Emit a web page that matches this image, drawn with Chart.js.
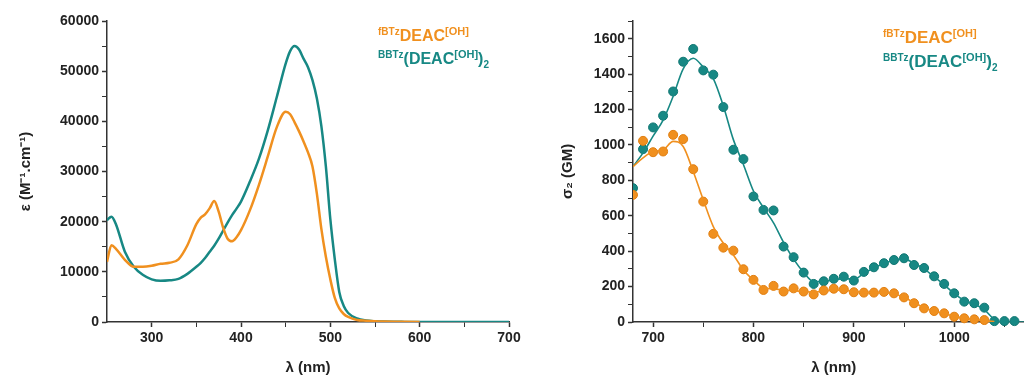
<!DOCTYPE html>
<html>
<head>
<meta charset="utf-8">
<script src="https://cdn.jsdelivr.net/npm/chart.js@4.4.1/dist/chart.umd.min.js"></script>
<style>
  html, body { margin: 0; padding: 0; background: #fff; overflow: hidden; width: 1024px; height: 378px; }
  .panel { position: absolute; top: 0; }
  .leg { position: absolute; font-family: "Liberation Sans", Arial, sans-serif; font-weight: bold; white-space: nowrap; line-height: 16px; font-size: 16px; }
  .leg sup { font-size: 10px; vertical-align: 6px; line-height: 0; }
  .leg sup.oh { font-size: 11px; }
  .leg sub { font-size: 10px; vertical-align: -4px; line-height: 0; }
  .orange { color: #F0901F; }
  .teal { color: #178884; }
</style>
</head>
<body>
<div class="panel" style="left:0"><canvas id="absChart" width="530" height="378"></canvas></div>
<div class="panel" style="left:520px"><canvas id="tpaChart" width="520" height="378"></canvas></div>

<div class="leg orange" style="left:378px;top:28px"><sup>fBTz</sup>DEAC<sup class="oh">[OH]</sup></div>
<div class="leg teal" style="left:378px;top:51px"><sup>BBTz</sup>(DEAC<sup class="oh">[OH]</sup>)<sub>2</sub></div>
<div class="leg orange" style="left:883px;top:30px;font-size:17px"><sup>fBTz</sup>DEAC<sup class="oh">[OH]</sup></div>
<div class="leg teal" style="left:883px;top:54px;font-size:17px"><sup>BBTz</sup>(DEAC<sup class="oh">[OH]</sup>)<sub>2</sub></div>

<script>
const ORANGE = '#F0901F';
const TEAL = '#178884';
const AXIS = '#333';

// left panel: one-photon absorption, epsilon vs wavelength
const absWl = [250, 255, 260, 270, 280, 290, 300, 310, 320, 330, 340, 350, 355, 360, 365, 370, 375, 380, 385, 390, 395, 400,
  410, 420, 430, 440, 450, 455, 460, 465, 470, 475, 480, 485, 490, 495, 500, 505, 510, 515, 520, 530, 540, 550, 560, 580, 600, 650, 700];
const epsFBTz = [12000, 15300, 14600, 12400, 11000, 11000, 11200, 11600, 11800, 12500, 15300, 19500, 20800, 21500, 22700, 24100, 22000, 18800, 16600, 16100, 16900, 18300,
  22300, 27300, 33000, 38800, 41900, 41400, 39800, 38000, 36000, 33800, 31000, 25500, 18500, 13000, 8500, 4800, 2700, 1600, 1000, 400, 250, 150, 100, 50, 0, null, null];
const epsBBTz = [20300, 21000, 19500, 14000, 11000, 9400, 8500, 8200, 8300, 8600, 9600, 11000, 11800, 12800, 14000, 15200, 16600, 18200, 19800, 21300, 22600, 24000,
  28000, 32500, 38200, 44800, 51500, 54000, 55000, 54300, 52500, 50800, 48200, 44500, 39000, 31000, 20500, 12500, 6000, 3200, 1800, 700, 300, 150, 80, 30, 0, 0, 0];

// right panel: two-photon cross sections (measured points)
const tpaWl = [680, 690, 700, 710, 720, 730, 740, 750, 760, 770, 780, 790, 800, 810, 820, 830, 840, 850, 860, 870,
  880, 890, 900, 910, 920, 930, 940, 950, 960, 970, 980, 990, 1000, 1010, 1020, 1030, 1040, 1050, 1060];
const sigmaFBTz = [718, 1023, 959, 963, 1057, 1033, 863, 680, 498, 420, 403, 298, 238, 181, 204, 172, 190, 172, 156, 178,
  188, 185, 168, 166, 166, 170, 162, 139, 106, 77, 62, 49, 30, 21, 15, 11, null, null, null];
const sigmaBBTz = [756, 976, 1099, 1165, 1302, 1470, 1542, 1421, 1397, 1214, 973, 920, 709, 633, 630, 426, 366, 279, 215, 230,
  244, 256, 234, 283, 309, 332, 350, 360, 322, 305, 258, 215, 162, 115, 106, 81, 5, 5, 5];

// right panel: smooth fit curves
const fitWl = [680, 690, 700, 710, 720, 730, 740, 750, 760, 770, 780, 790, 800, 810, 820, 830, 840, 850, 860, 870,
  880, 890, 900, 910, 920, 930, 940, 950, 960, 970, 980, 990, 1000, 1010, 1020, 1030, 1040, 1050, 1060, 1070, 1080];
const fitFBTz = [878, 927, 963, 972, 1020, 991, 850, 690, 539, 445, 379, 294, 237, 192, 187, 181, 177, 172, 168, 175,
  180, 180, 172, 168, 166, 165, 158, 140, 110, 82, 62, 47, 32, 22, 14, 8, 2, null, null, null, null];
const fitBBTz = [878, 955, 1050, 1140, 1275, 1430, 1490, 1440, 1375, 1220, 1030, 890, 740, 645, 560, 450, 355, 280, 228, 230,
  238, 245, 242, 275, 305, 330, 350, 355, 332, 300, 255, 210, 160, 122, 100, 70, 15, 0, 0, 0, 0];

// tick positions and the ones that carry a label
const absXTicks = [300, 350, 400, 450, 500, 550, 600, 650, 700];
const absXLabels = [300, 400, 500, 600, 700];
const absYTicks = [0, 5000, 10000, 15000, 20000, 25000, 30000, 35000, 40000, 45000, 50000, 55000, 60000];
const absYLabels = [0, 10000, 20000, 30000, 40000, 50000, 60000];
const tpaXTicks = [700, 750, 800, 850, 900, 950, 1000, 1050];
const tpaXLabels = [700, 800, 900, 1000];
const tpaYTicks = [0, 100, 200, 300, 400, 500, 600, 700, 800, 900, 1000, 1100, 1200, 1300, 1400, 1500, 1600, 1700];
const tpaYLabels = [0, 200, 400, 600, 800, 1000, 1200, 1400, 1600];

Chart.defaults.font.family = '"Liberation Sans", Arial, sans-serif';
Chart.defaults.color = '#222';

const pts = (xs, ys) => xs.map((x, i) => ({ x, y: ys[i] })).filter(p => p.y !== null);

function axis(opts) {
  const { min, max, ticks, labels, title, titlePad, fit, horizontal } = opts;
  return {
    type: 'linear',
    min, max,
    afterBuildTicks: s => { s.ticks = ticks.map(v => ({ value: v })); },
    afterFit: s => { if (horizontal) s.height = fit; else s.width = fit; },
    border: { color: AXIS, width: 1.5 },
    grid: {
      drawOnChartArea: false,
      drawTicks: true,
      tickLength: 5,
      tickColor: AXIS,
      tickWidth: ctx => labels.includes(ctx.tick.value) ? 1.5 : 1
    },
    ticks: {
      padding: 3,
      autoSkip: false,
      maxRotation: 0,
      font: { size: 14, weight: 'bold' },
      color: '#222',
      callback: v => labels.includes(v) ? String(v) : ''
    },
    title: {
      display: true,
      text: title,
      color: '#222',
      font: { size: 15, weight: 'bold' },
      padding: titlePad
    }
  };
}

new Chart(document.getElementById('absChart'), {
  type: 'scatter',
  data: {
    datasets: [
      { data: pts(absWl, epsFBTz), showLine: true, borderColor: ORANGE, borderWidth: 2.5, pointRadius: 0, cubicInterpolationMode: 'monotone' },
      { data: pts(absWl, epsBBTz), showLine: true, borderColor: TEAL, borderWidth: 2.5, pointRadius: 0, cubicInterpolationMode: 'monotone' }
    ]
  },
  options: {
    responsive: false,
    animation: false,
    layout: { padding: { top: 21, right: 21, left: 0, bottom: 0 } },
    plugins: { legend: { display: false }, tooltip: { enabled: false } },
    scales: {
      x: axis({ min: 250, max: 700, ticks: absXTicks, labels: absXLabels, title: 'λ (nm)', titlePad: { top: 0, bottom: 1 }, fit: 56, horizontal: true }),
      y: axis({ min: 0, max: 60000, ticks: absYTicks, labels: absYLabels, title: 'ε (M⁻¹.cm⁻¹)', titlePad: { top: 17, bottom: 0 }, fit: 107 })
    }
  }
});

new Chart(document.getElementById('tpaChart'), {
  type: 'scatter',
  data: {
    datasets: [
      { data: pts(fitWl, fitFBTz), showLine: true, borderColor: ORANGE, borderWidth: 1.6, pointRadius: 0, cubicInterpolationMode: 'monotone' },
      { data: pts(fitWl, fitBBTz), showLine: true, borderColor: TEAL, borderWidth: 1.6, pointRadius: 0, cubicInterpolationMode: 'monotone' },
      { data: pts(tpaWl, sigmaFBTz), showLine: false, pointRadius: 4.5, backgroundColor: ORANGE, borderColor: '#E07E10', borderWidth: 1, clip: { left: 0, top: false, right: false, bottom: false } },
      { data: pts(tpaWl, sigmaBBTz), showLine: false, pointRadius: 4.5, backgroundColor: TEAL, borderColor: '#0F7571', borderWidth: 1, clip: { left: 0, top: false, right: false, bottom: false } }
    ]
  },
  options: {
    responsive: false,
    animation: false,
    layout: { padding: { top: 21, right: 4.5, left: 0, bottom: 0 } },
    plugins: { legend: { display: false }, tooltip: { enabled: false } },
    scales: {
      x: axis({ min: 680, max: 1080, ticks: tpaXTicks, labels: tpaXLabels, title: 'λ (nm)', titlePad: { top: 0, bottom: 1 }, fit: 56, horizontal: true }),
      y: axis({ min: 0, max: 1700, ticks: tpaYTicks, labels: tpaYLabels, title: 'σ₂ (GM)', titlePad: { top: 39, bottom: 0 }, fit: 113 })
    }
  }
});
</script>
</body>
</html>
